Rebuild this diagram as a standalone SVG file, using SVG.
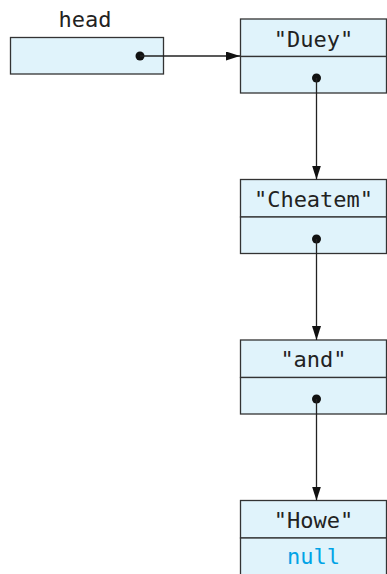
<svg xmlns="http://www.w3.org/2000/svg" width="387" height="574" viewBox="0 0 387 574">
<style>
.box{fill:#e0f3fb;stroke:#333;stroke-width:1.3}
.t{font-family:"DejaVu Sans Mono","Liberation Mono",monospace;font-size:22px;fill:#222;text-anchor:middle}
.null{fill:#00a3e6}
.dot{fill:#111}
.ln{stroke:#222;stroke-width:1.3;fill:none}
</style>
<defs>
<marker id="ah" viewBox="0 0 14 9" refX="14" refY="4.5" markerWidth="14" markerHeight="9" markerUnits="userSpaceOnUse" orient="auto">
<path d="M0,0 L14,4.5 L0,9 Z" fill="#111"/>
</marker>
</defs>
<g id="head">
<text class="t" x="85" y="27">head</text>
<rect class="box" x="10.5" y="37.5" width="153" height="36.5"/>
<circle class="dot" cx="140" cy="56" r="4.5"/>
</g>
<g id="node1">
<rect class="box" x="240.5" y="19" width="146" height="37.5"/>
<rect class="box" x="240.5" y="56.5" width="146" height="36.5"/>
<text class="t" x="313.5" y="46.5">"Duey"</text>
<circle class="dot" cx="316.5" cy="78" r="4.5"/>
</g>
<g id="node2">
<rect class="box" x="240.5" y="179.5" width="146" height="37.5"/>
<rect class="box" x="240.5" y="217" width="146" height="36.5"/>
<text class="t" x="313.5" y="206.5">"Cheatem"</text>
<circle class="dot" cx="316.5" cy="239" r="4.5"/>
</g>
<g id="node3">
<rect class="box" x="240.5" y="340" width="146" height="37.5"/>
<rect class="box" x="240.5" y="377.5" width="146" height="36.5"/>
<text class="t" x="313.5" y="367">"and"</text>
<circle class="dot" cx="316.5" cy="399" r="4.5"/>
</g>
<g id="node4">
<rect class="box" x="240.5" y="500.5" width="146" height="37.5"/>
<rect class="box" x="240.5" y="538" width="146" height="37"/>
<text class="t" x="313.5" y="527.5">"Howe"</text>
<text class="t null" x="313.5" y="564">null</text>
</g>
<g id="connectors">
<line class="ln" x1="140" y1="56" x2="240" y2="56" marker-end="url(#ah)"/>
<line class="ln" x1="316.5" y1="78" x2="316.5" y2="179.5" marker-end="url(#ah)"/>
<line class="ln" x1="316.5" y1="239" x2="316.5" y2="340" marker-end="url(#ah)"/>
<line class="ln" x1="316.5" y1="399" x2="316.5" y2="500.5" marker-end="url(#ah)"/>
</g>
</svg>
